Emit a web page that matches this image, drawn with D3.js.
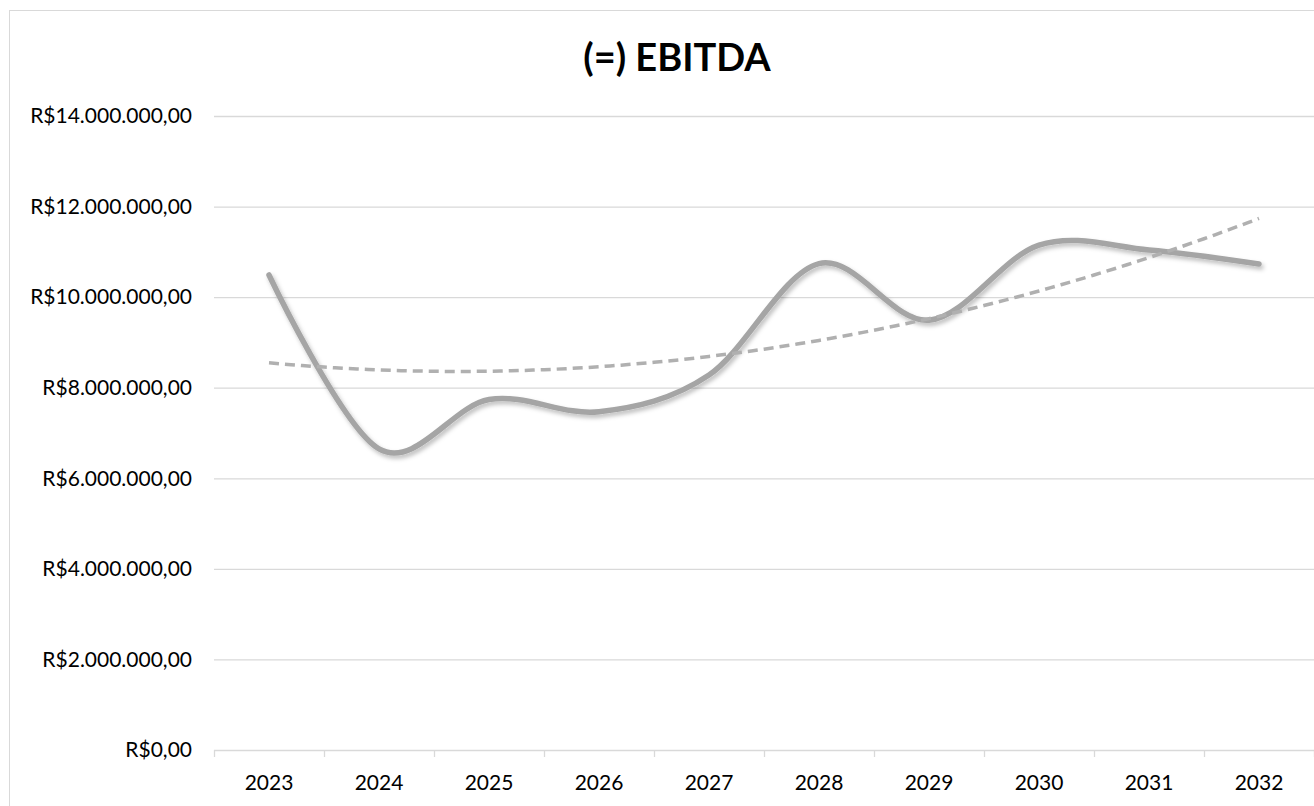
<!DOCTYPE html>
<html>
<head>
<meta charset="utf-8">
<script src="https://cdn.jsdelivr.net/npm/d3@7"></script>
<style>
  body { margin: 0; background: #fff; }
  #chart text { font-family: Lato, "Open Sans", sans-serif; fill: #000; }
</style>
</head>
<body>
<div id="chart"></div>
<script>
// Data
var years = ["2023", "2024", "2025", "2026", "2027", "2028", "2029", "2030", "2031", "2032"];
var ebitda = [10490000, 6650000, 7740000, 7470000, 8280000, 10740000, 9490000, 11150000, 11040000, 10730000];
var yTicks = [0, 2000000, 4000000, 6000000, 8000000, 10000000, 12000000, 14000000];

// Polynomial (order 2) trendline, least squares like Excel does
function quadFit(ys) {
    var xs = ys.map((d, i) => i + 1);
    var s = [0, 0, 0, 0, 0], t = [0, 0, 0];
    xs.forEach((x, i) => {
        for (var k = 0; k < 5; k++) s[k] += Math.pow(x, k);
        for (var k = 0; k < 3; k++) t[k] += Math.pow(x, k) * ys[i];
    });
    // solve 3x3 normal equations
    var A = [[s[0], s[1], s[2], t[0]], [s[1], s[2], s[3], t[1]], [s[2], s[3], s[4], t[2]]];
    for (var c = 0; c < 3; c++) {
        for (var r = c + 1; r < 3; r++) {
            var f = A[r][c] / A[c][c];
            for (var k = c; k < 4; k++) A[r][k] -= f * A[c][k];
        }
    }
    var coef = [0, 0, 0];
    for (var r = 2; r >= 0; r--) {
        var v = A[r][3];
        for (var k = r + 1; k < 3; k++) v -= A[r][k] * coef[k];
        coef[r] = v / A[r][r];
    }
    return x => coef[0] + coef[1] * x + coef[2] * x * x;
}

var W = 1314, H = 806;
var margin = { top: 116, right: 0, bottom: 56, left: 214 },
    width = W - margin.left - margin.right,
    height = H - margin.top - margin.bottom;

var svg = d3.select("#chart").append("svg")
    .attr("width", W)
    .attr("height", H);

var defs = svg.append("defs");
var shadow = defs.append("filter").attr("id", "shadow")
    .attr("x", "-10%").attr("y", "-10%").attr("width", "120%").attr("height", "130%");
shadow.append("feDropShadow")
    .attr("dx", 2).attr("dy", 3).attr("stdDeviation", 2)
    .attr("flood-color", "#000").attr("flood-opacity", 0.25);

// Chart border
svg.append("rect")
    .attr("x", 9.5).attr("y", 10.5)
    .attr("width", 1400).attr("height", 900)
    .attr("fill", "none").attr("stroke", "#d9d9d9");

// Title
svg.append("text")
    .attr("x", 677).attr("y", 71)
    .attr("text-anchor", "middle")
    .style("font-size", "38px")
    .style("font-weight", "bold")
    .text("(=) EBITDA");

var g = svg.append("g").attr("transform", `translate(${margin.left},${margin.top})`);

var x = d3.scaleBand().domain(years).range([0, width]);
var y = d3.scaleLinear().domain([0, 14000000]).range([height, 0]);

var fmt = v => "R$" + d3.format(",.2f")(v).replace(/,/g, "#").replace(".", ",").replace(/#/g, ".");

// Gridlines and y labels
var yAxis = g.append("g")
    .call(d3.axisLeft(y).tickValues(yTicks).tickSize(-width).tickFormat(fmt).tickPadding(22));
yAxis.select(".domain").remove();
yAxis.selectAll(".tick line").attr("stroke", "#d9d9d9").attr("stroke-width", 1.3);
yAxis.selectAll(".tick text").style("font-size", "21px");

// X axis
var xAxis = g.append("g")
    .attr("transform", `translate(0,${height})`)
    .call(d3.axisBottom(x).tickSize(0).tickPadding(25));
xAxis.select(".domain").remove();
xAxis.selectAll(".tick text").style("font-size", "21px");

// tick marks between categories
g.append("g").selectAll("line")
    .data(years.concat(["end"]))
    .enter().append("line")
    .attr("x1", (d, i) => i * x.bandwidth() + 0.5)
    .attr("x2", (d, i) => i * x.bandwidth() + 0.5)
    .attr("y1", height)
    .attr("y2", height + 7)
    .attr("stroke", "#d9d9d9").attr("stroke-width", 1.3);

var cx = d => x(d) + x.bandwidth() / 2;

// Trendline
var trend = quadFit(ebitda);
var trendPts = d3.range(1, years.length + 0.001, 0.1).map(t => [t, trend(t)]);
var tx = d3.scaleLinear().domain([1, years.length]).range([cx(years[0]), cx(years[years.length - 1])]);

// Main line
g.append("path")
    .datum(ebitda)
    .attr("fill", "none")
    .attr("stroke", "#a5a5a5")
    .attr("stroke-width", 5.5)
    .attr("stroke-linecap", "round")
    .attr("stroke-linejoin", "round")
    .attr("filter", "url(#shadow)")
    .attr("d", d3.line()
        .x((d, i) => cx(years[i]))
        .y(d => y(d))
        .curve(d3.curveCatmullRom.alpha(0)));

g.append("path")
    .datum(trendPts)
    .attr("fill", "none")
    .attr("stroke", "#b0b0b0")
    .attr("stroke-width", 3.5)
    .attr("stroke-dasharray", "10,6")
    .attr("d", d3.line().x(d => tx(d[0])).y(d => y(d[1])));
</script>
</body>
</html>
